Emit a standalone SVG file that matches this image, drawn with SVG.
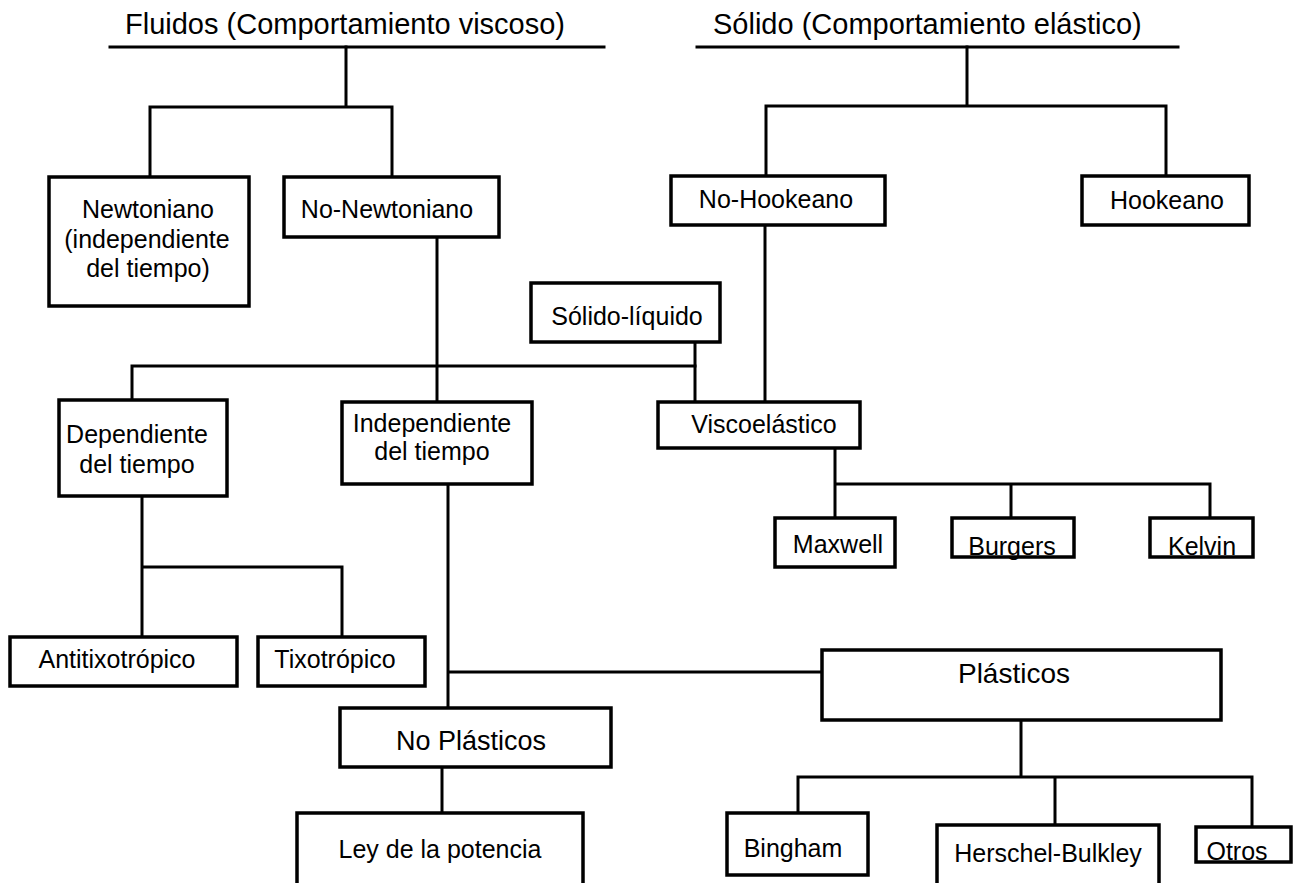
<svg xmlns="http://www.w3.org/2000/svg" width="1294" height="883" viewBox="0 0 1294 883">
  <style>
    .bg { fill: #ffffff; }
    .box { fill: #ffffff; stroke: #000000; stroke-width: 3.5; }
    .link { fill: none; stroke: #000000; stroke-width: 3; stroke-linecap: square; stroke-linejoin: miter; }
    .lbl { font-family: "Liberation Sans", Arial, sans-serif; font-size: 25px; fill: #000000; text-anchor: middle; }
    .big { font-size: 27px; }
    .title { font-family: "Liberation Sans", Arial, sans-serif; font-size: 29px; fill: #000000; }
  </style>

  <rect class="bg" x="0" y="0" width="1294" height="883"/>

  <!-- Section headings with their rules -->
  <g id="head-fluidos">
    <text class="title" x="125" y="34">Fluidos (Comportamiento viscoso)</text>
  </g>
  <g id="head-solido">
    <text class="title" x="713" y="34">Sólido (Comportamiento elástico)</text>
  </g>

  <!-- Connectors -->
  <g id="connectors" class="link">
    <!-- heading rules -->
    <path d="M110 47 H604"/>
    <path d="M697 47 H1178"/>
    <!-- fluids split -->
    <path d="M346 47 V107 M150 107 H392 M150 107 V177 M392 107 V177"/>
    <!-- solids split -->
    <path d="M967 47 V106 M766 106 H1166 M766 106 V176 M1166 106 V176"/>
    <!-- No-Newtoniano down to Independiente -->
    <path d="M437 237 V402"/>
    <!-- time-dependence bar -->
    <path d="M132 366 H695 M132 366 V400"/>
    <!-- Sólido-líquido to Viscoelástico -->
    <path d="M695 342 V402"/>
    <!-- No-Hookeano to Viscoelástico -->
    <path d="M765 225 V402"/>
    <!-- Viscoelástico models -->
    <path d="M835 448 V518 M835 484 H1210 M1011 484 V518 M1210 484 V518"/>
    <!-- Dependiente children -->
    <path d="M142 496 V637 M142 567 H342 V637"/>
    <!-- Independiente children -->
    <path d="M448 484 V708 M448 672 H822"/>
    <!-- No Plásticos to Ley de la potencia -->
    <path d="M442 767 V813"/>
    <!-- Plásticos children -->
    <path d="M1021 720 V777 M798 777 H1252 M798 777 V813 M1055 777 V825 M1252 777 V827"/>
  </g>

  <!-- Nodes -->
  <g id="n-newtoniano">
    <rect class="box" x="49" y="177" width="200" height="129"/>
    <text class="lbl" x="148" y="218">Newtoniano</text>
    <text class="lbl" x="147" y="248">(independiente</text>
    <text class="lbl" x="148" y="277">del tiempo)</text>
  </g>
  <g id="n-no-newtoniano">
    <rect class="box" x="284" y="177" width="215" height="60"/>
    <text class="lbl" x="387" y="218">No-Newtoniano</text>
  </g>
  <g id="n-no-hookeano">
    <rect class="box" x="671" y="176" width="214" height="49"/>
    <text class="lbl" x="776" y="208">No-Hookeano</text>
  </g>
  <g id="n-hookeano">
    <rect class="box" x="1082" y="176" width="167" height="49"/>
    <text class="lbl" x="1167" y="209">Hookeano</text>
  </g>
  <g id="n-solido-liquido">
    <rect class="box" x="531" y="283" width="189" height="59"/>
    <text class="lbl" x="627" y="325">Sólido-líquido</text>
  </g>
  <g id="n-dependiente">
    <rect class="box" x="59" y="400" width="168" height="96"/>
    <text class="lbl" x="137" y="443">Dependiente</text>
    <text class="lbl" x="137" y="473">del tiempo</text>
  </g>
  <g id="n-independiente">
    <rect class="box" x="342" y="402" width="190" height="82"/>
    <text class="lbl" x="432" y="432">Independiente</text>
    <text class="lbl" x="432" y="460">del tiempo</text>
  </g>
  <g id="n-viscoelastico">
    <rect class="box" x="658" y="402" width="202" height="46"/>
    <text class="lbl" x="764" y="433">Viscoelástico</text>
  </g>
  <g id="n-maxwell">
    <rect class="box" x="775" y="518" width="120" height="49"/>
    <text class="lbl" x="838" y="553">Maxwell</text>
  </g>
  <g id="n-burgers">
    <rect class="box" x="952" y="518" width="122" height="39"/>
    <text class="lbl" x="1012" y="555">Burgers</text>
  </g>
  <g id="n-kelvin">
    <rect class="box" x="1150" y="518" width="103" height="39"/>
    <text class="lbl" x="1202" y="555">Kelvin</text>
  </g>
  <g id="n-antitixotropico">
    <rect class="box" x="10" y="637" width="227" height="49"/>
    <text class="lbl" x="117" y="668">Antitixotrópico</text>
  </g>
  <g id="n-tixotropico">
    <rect class="box" x="258" y="637" width="167" height="49"/>
    <text class="lbl" x="335" y="668">Tixotrópico</text>
  </g>
  <g id="n-plasticos">
    <rect class="box" x="822" y="650" width="399" height="70"/>
    <text class="lbl big" x="1014" y="683" style="font-size:28px">Plásticos</text>
  </g>
  <g id="n-no-plasticos">
    <rect class="box" x="340" y="708" width="271" height="59"/>
    <text class="lbl big" x="471" y="750">No Plásticos</text>
  </g>
  <g id="n-ley-potencia">
    <path class="box" d="M297 890 V813 H583 V890"/>
    <text class="lbl" x="440" y="858">Ley de la potencia</text>
  </g>
  <g id="n-bingham">
    <rect class="box" x="727" y="813" width="141" height="62"/>
    <text class="lbl" x="793" y="857">Bingham</text>
  </g>
  <g id="n-herschel-bulkley">
    <path class="box" d="M937 890 V825 H1159 V890"/>
    <text class="lbl" x="1048" y="862">Herschel-Bulkley</text>
  </g>
  <g id="n-otros">
    <rect class="box" x="1196" y="827" width="95" height="35"/>
    <text class="lbl" x="1237" y="860">Otros</text>
  </g>
</svg>
